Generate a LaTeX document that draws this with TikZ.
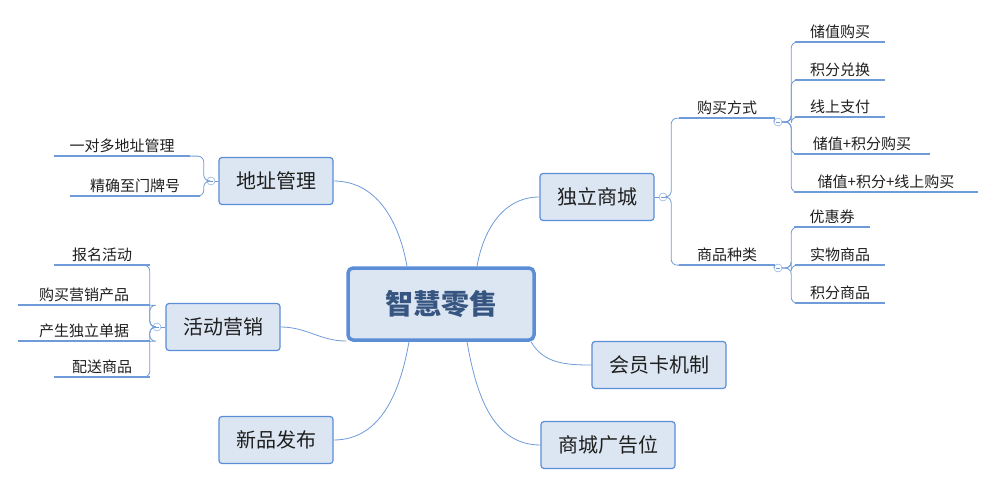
\documentclass[tikz,border=0pt]{standalone}
\usepackage{fontspec}
\setmainfont{Noto Sans CJK SC}
\usetikzlibrary{positioning}
\definecolor{lineblue}{HTML}{6F9BD8}
\definecolor{boxblue}{HTML}{5B8ED6}
\definecolor{boxfill}{HTML}{DCE6F2}
\definecolor{txt}{HTML}{1F1F1F}
\tikzset{
  central/.style={draw=boxblue, line width=3.5pt, fill=boxfill, rounded corners=5pt,
    minimum width=186, minimum height=72, font=\fontsize{28}{30}\selectfont\bfseries, text=boxblue!60!black},
  topic/.style={draw=boxblue, line width=1.2pt, fill=boxfill, rounded corners=3pt,
    minimum height=47, inner xsep=17, font=\fontsize{20}{22}\selectfont, text=txt},
  sub/.style={inner xsep=8, inner ysep=3, font=\fontsize{15}{17}\selectfont, text=txt,
    append after command={(\tikzlastnode.south west) edge[lineblue, line width=1.6pt] (\tikzlastnode.south east)}},
  fold/.style={circle, draw=lineblue, fill=white, minimum size=8, inner sep=0pt,
    path picture={\draw[lineblue] ([xshift=-2.2]path picture bounding box.center) -- ([xshift=2.2]path picture bounding box.center);}},
  link/.style={lineblue, line width=0.8pt},
  branch/.style={lineblue, line width=0.8pt, rounded corners=6pt}
}
\begin{document}
\begin{tikzpicture}[x=1pt,y=-1pt]
    \useasboundingbox (0,0) rectangle (997,487);
    %main topics
    \node[central] (root) at (441,304) {智慧零售};
    \node[topic] (addr) at (276,181) {地址管理};
    \node[topic] (promo) at (223,327) {活动营销};
    \node[topic] (newp) at (276,440) {新品发布};
    \node[topic] (shop) at (597,197) {独立商城};
    \node[topic] (card) at (659,365) {会员卡机制};
    \node[topic] (ads) at (608,445) {商城广告位};

    \begin{scope}[on background layer/.try]
    \draw[link] ([xshift=-34]root.north) to[out=100,in=0] (addr.east);
    \draw[link] ([xshift=-95]root.east) ++(-0,14) (root.west |- promo.east) ++(0,14) to[out=180,in=0] (promo.east);
    \draw[link] ([xshift=-32]root.south) to[out=260,in=0] (newp.east);
    \draw[link] ([xshift=36]root.north) to[out=80,in=180] (shop.west);
    \draw[link] ([xshift=90]root.south) to[out=300,in=180] (card.west);
    \draw[link] ([xshift=26]root.south) to[out=280,in=180] (ads.west);
    \end{scope}

    %fold markers
    \node[fold] (faddr) at (211,181) {};
    \node[fold] (fpromo) at (157,327) {};
    \node[fold] (fshop) at (663,197) {};
    \draw[link] (addr.west) -- (faddr.east);
    \draw[link] (promo.west) -- (fpromo.east);
    \draw[link] (shop.east) -- (fshop.west);

    %address
    \node[sub, minimum width=135] (a1) at (122,146) {一对多地址管理};
    \node[sub, minimum width=130] (a2) at (135,186) {精确至门牌号};
    \foreach \s in {a1,a2}
        \draw[branch] (faddr.west) -- ++(-3,0) |- (\s.south east);

    %promotion
    \node[sub, minimum width=95] (p1) at (102,255) {报名活动};
    \node[sub, minimum width=132] (p2) at (84,295) {购买营销产品};
    \node[sub, minimum width=132] (p3) at (84,331) {产生独立单据};
    \node[sub, minimum width=95] (p4) at (102,367) {配送商品};
    \foreach \s in {p1,p2,p3,p4}
        \draw[branch] (fpromo.west) -- ++(-3,0) |- (\s.south east);

    %shop
    \node[sub, minimum width=95] (buy) at (727,108) {购买方式};
    \node[sub, minimum width=95] (kind) at (727,255) {商品种类};
    \node[fold] (fbuy) at (778,122) {};
    \node[fold] (fkind) at (778,268) {};
    \draw[link] (buy.south east) -- (fbuy.west);
    \draw[link] (kind.south east) -- (fkind.west);
    \foreach \s in {buy,kind}
        \draw[branch] (fshop.east) -- ++(4,0) |- (\s.south west);

    \node[sub, minimum width=90] (b1) at (840,32) {储值购买};
    \node[sub, minimum width=90] (b2) at (840,70) {积分兑换};
    \node[sub, minimum width=90] (b3) at (840,107) {线上支付};
    \node[sub, minimum width=135] (b4) at (862,144) {储值+积分购买};
    \node[sub, minimum width=183] (b5) at (886,182) {储值+积分+线上购买};
    \foreach \s in {b1,b2,b3,b4,b5}
        \draw[branch] (fbuy.east) -- ++(9,0) |- (\s.south west);

    \node[sub, minimum width=75] (k1) at (832,217) {优惠券};
    \node[sub, minimum width=90] (k2) at (840,255) {实物商品};
    \node[sub, minimum width=90] (k3) at (840,293) {积分商品};
    \foreach \s in {k1,k2,k3}
        \draw[branch] (fkind.east) -- ++(9,0) |- (\s.south west);
\end{tikzpicture}
\end{document}
